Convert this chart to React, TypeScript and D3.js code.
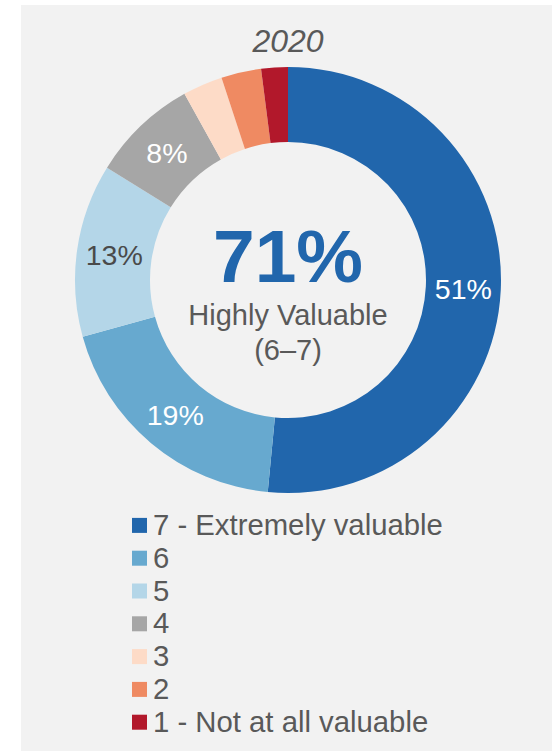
import React, { useEffect, useRef } from 'react';
import * as d3 from 'd3';

const categories = ['7 - Extremely valuable', '6', '5', '4', '3', '2', '1 - Not at all valuable'];
const shares = [51, 19, 13, 8, 3, 3, 2];
const title = '2020';
const headline = '71%';
const subLines = ['Highly Valuable', '(6–7)'];

const palette = ['#2166ac', '#67a9cf', '#b4d6e8', '#a6a6a6', '#fddbc7', '#ef8a62', '#b2182b'];
const textGray = '#595959';

const W = 552;
const H = 751;

const App: React.FC = () => {
   const svgRef = useRef<SVGSVGElement | null>(null);

   useEffect(() => {
      document.body.style.margin = '0';
      if (!svgRef.current) return;
      const svg = d3.select(svgRef.current);
      svg.selectAll('*').remove();

      const font = '"Liberation Sans", Arial, sans-serif';

      // panel background
      svg.append('rect')
         .attr('x', 21).attr('y', 5)
         .attr('width', W - 21).attr('height', H - 5)
         .attr('fill', '#f2f2f2');

      svg.append('text')
         .attr('x', 288).attr('y', 52)
         .attr('text-anchor', 'middle')
         .attr('font-family', font)
         .attr('font-style', 'italic')
         .attr('font-size', 32)
         .attr('fill', textGray)
         .text(title);

      const cx = 288, cy = 280;
      const outerR = 213, innerR = 138;

      const color = d3.scaleOrdinal<string, string>().domain(categories).range(palette);

      const pie = d3.pie<number>().sort(null).value(d => d);
      const arcs = pie(shares);
      const arc = d3.arc<d3.PieArcDatum<number>>().innerRadius(innerR).outerRadius(outerR);

      const g = svg.append('g').attr('transform', `translate(${cx},${cy})`);

      g.selectAll('path.slice')
         .data(arcs)
         .enter()
         .append('path')
         .attr('class', 'slice')
         .attr('d', arc)
         .attr('fill', (d, i) => color(categories[i]));

      // percentage labels on the larger slices
      g.selectAll('text.pct')
         .data(arcs.filter(d => d.data >= 8))
         .enter()
         .append('text')
         .attr('class', 'pct')
         .attr('transform', d => {
            const [x, y] = arc.centroid(d);
            return `translate(${x},${y})`;
         })
         .attr('dy', '0.36em')
         .attr('text-anchor', 'middle')
         .attr('font-family', font)
         .attr('font-size', 28.5)
         .attr('fill', d => (d.index === 2 ? '#4a4a4a' : '#ffffff'))
         .text(d => `${d.data}%`);

      // centre text
      g.append('text')
         .attr('x', 0).attr('y', 2)
         .attr('text-anchor', 'middle')
         .attr('font-family', font)
         .attr('font-weight', 'bold')
         .attr('font-size', 75)
         .attr('fill', '#2166ac')
         .text(headline);

      subLines.forEach((t, i) => {
         g.append('text')
            .attr('x', 0).attr('y', 45 + i * 35)
            .attr('text-anchor', 'middle')
            .attr('font-family', font)
            .attr('font-size', 29)
            .attr('fill', textGray)
            .text(t);
      });

      // legend
      const legendY = d3.scaleBand<string>()
         .domain(categories)
         .range([509, 509 + 32.8 * categories.length]);

      const items = svg.append('g')
         .selectAll('g.item')
         .data(categories)
         .enter()
         .append('g')
         .attr('class', 'item')
         .attr('transform', d => `translate(132,${legendY(d)! + legendY.bandwidth() / 2})`);

      items.append('rect')
         .attr('x', 0).attr('y', -7.5)
         .attr('width', 15).attr('height', 15)
         .attr('fill', d => color(d));

      items.append('text')
         .attr('x', 21).attr('y', 9.5)
         .attr('font-family', font)
         .attr('font-size', 29.3)
         .attr('fill', textGray)
         .text(d => d);
   }, []);

   return (
      <svg ref={svgRef} width={W} height={H} style={{ display: 'block' }} />
   );
};

export default App;
